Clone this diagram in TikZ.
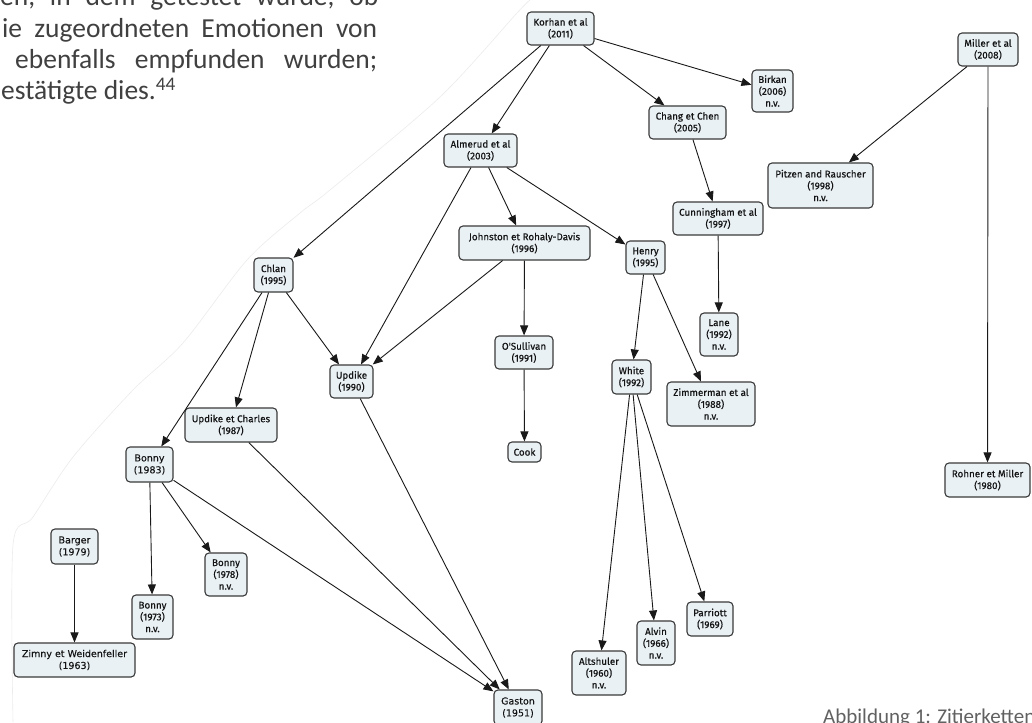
\documentclass[tikz,border=0pt]{standalone}
\usepackage{fontspec}
\setmainfont{Carlito}
\newfontfamily\nodefont[FakeBold=0.5]{Fira Sans}
\newfontfamily\verd[FakeBold=0.2]{DejaVu Sans}
\usetikzlibrary{arrows.meta}
\definecolor{boxfill}{HTML}{E9F1F5}
\definecolor{boxdraw}{HTML}{3A3A3A}
\definecolor{txt}{HTML}{404040}
\begin{document}
\begin{tikzpicture}[x=1pt,y=-1pt,
 box/.style={draw=boxdraw, fill=boxfill, rounded corners=4pt, line width=1.1pt, align=center, inner sep=0pt,
   font=\nodefont\fontsize{9.8}{11.8}\selectfont, text=black!92},
 vbox/.style={box, font=\verd\fontsize{9.5}{11.9}\selectfont},
 arr/.style={-{Triangle[length=10pt,width=8pt]}, line width=0.9pt, draw=black!90},
 body/.style={font=\fontsize{27.5}{31.5}\selectfont, text=txt, inner sep=0pt, anchor=base west},
 faint/.style={draw=gray!15, line width=0.6pt},
]
\useasboundingbox (0,0) rectangle (1032,722);
\fill[white] (0,0) rectangle (1032,722);

% faint page edge
\draw[faint] plot[smooth] coordinates {(13,722) (13,545) (33,517) (73,457) (133,390) (183,343) (247,260) (300,213) (330,190) (440,97) (517,13) (530,0)};

% body text
\node[body] (t1) at (0,6) {\makebox[378pt][s]{en,\hfill in\hfill dem\hfill getestet\hfill wurde,\hfill ob}};
\node[body] (t2) at (2,38) {\makebox[375pt][s]{ie\hfill zugeordneten\hfill Emotionen\hfill von}};
\node[body] (t3) at (15,69) {\makebox[362pt][s]{ebenfalls\hfill empfunden\hfill wurden;}};
\node[body] (t4) at (1,100) {estätigte dies.\textsuperscript{44}};
\node[font=\fontsize{21}{25}\selectfont, text=black!62, anchor=base west, inner sep=0pt] (cap) at (823,723) {Abbildung 1: Zitierketten};

% nodes
\node[box, minimum width=67, minimum height=33] (korhan) at (560.5,28.5) {Korhan et al\\(2011)};
\node[box, minimum width=41, minimum height=42] (birkan) at (772.5,91) {Birkan\\(2006)\\n.v.};
\node[box, minimum width=77, minimum height=33] (chang) at (687.5,122.5) {Chang et Chen\\(2005)};
\node[box, minimum width=73, minimum height=33] (almerud) at (480.5,150.5) {Almerud et al\\(2003)};
\node[box, minimum width=60, minimum height=33] (miller) at (988,49.5) {Miller et al\\(2008)};
\node[box, minimum width=105, minimum height=45] (pitzen) at (820.5,185.5) {Pitzen and Rauscher\\(1998)\\n.v.};
\node[box, minimum width=90, minimum height=33] (cunning) at (718,218.5) {Cunningham et al\\(1997)};
\node[box, minimum width=39, minimum height=33] (henry) at (645.5,257.5) {Henry\\(1995)};
\node[box, minimum width=38, minimum height=43] (lane) at (719,334.5) {Lane\\(1992)\\n.v.};
\node[box, minimum width=39, minimum height=34] (white) at (631.5,377) {White\\(1992)};
\node[box, minimum width=88, minimum height=44] (zimmer) at (711,404) {Zimmerman et al\\(1988)\\n.v.};
\node[box, minimum width=131, minimum height=34] (johnston) at (524.5,243) {Johnston et Rohaly-Davis\\(1996)};
\node[box, minimum width=39, minimum height=34] (chlan) at (273.5,275) {Chlan\\(1995)};
\node[box, minimum width=43, minimum height=33] (updike) at (351.5,381.5) {Updike\\(1990)};
\node[box, minimum width=58, minimum height=33] (osull) at (524,352.5) {O'Sullivan\\(1991)};
\node[box, minimum width=92, minimum height=34] (updch) at (231,425) {Updike et Charles\\(1987)};
\node[vbox, minimum width=47, minimum height=35] (bonny83) at (149.5,464.5) {Bonny\\(1983)};
\node[vbox, minimum width=47, minimum height=35] (barger) at (74.5,546.5) {Barger\\(1979)};
\node[box, minimum width=42, minimum height=43] (bonny78) at (226,574.5) {Bonny\\(1978)\\n.v.};
\node[box, minimum width=41, minimum height=44] (bonny73) at (152.5,617) {Bonny\\(1973)\\n.v.};
\node[vbox, minimum width=121, minimum height=34] (zimny) at (74.5,660) {Zimny et Weidenfeller\\(1963)};
\node[box, minimum width=33, minimum height=20] (cook) at (524.5,452) {Cook};
\node[vbox, minimum width=48, minimum height=35] (gaston) at (518,707.5) {Gaston\\(1951)};
\node[box, minimum width=54, minimum height=44] (altsh) at (599,673) {Altshuler\\(1960)\\n.v.};
\node[box, minimum width=38, minimum height=44] (alvin) at (656,643) {Alvin\\(1966)\\n.v.};
\node[box, minimum width=46, minimum height=34] (parr) at (710,619) {Parriott\\(1969)};
\node[box, minimum width=85, minimum height=34] (rohner) at (987.5,480) {Rohner et Miller\\(1980)};

% edges
\draw[arr] (korhan) -- (chlan);
\draw[arr] (korhan) -- (almerud);
\draw[arr] (korhan) -- (chang);
\draw[arr] (korhan) -- (birkan);
\draw[arr] (almerud) -- (updike);
\draw[arr] (almerud) -- (johnston);
\draw[arr] (almerud) -- (henry);
\draw[arr] (chang) -- (cunning);
\draw[arr] (cunning) -- (lane);
\draw[arr] (miller) -- (pitzen);
\draw[arr] (miller) -- (rohner);
\draw[arr] (johnston) -- (updike);
\draw[arr] (johnston) -- (osull);
\draw[arr] (osull) -- (cook);
\draw[arr] (henry) -- (white);
\draw[arr] (henry) -- (zimmer);
\draw[arr] (white) -- (altsh);
\draw[arr] (white) -- (alvin);
\draw[arr] (white) -- (parr);
\draw[arr] (chlan) -- (bonny83);
\draw[arr] (chlan) -- (updch);
\draw[arr] (chlan) -- (updike);
\draw[arr] (updike) -- (gaston);
\draw[arr] (updch) -- (gaston);
\draw[arr] (bonny83) -- (bonny73);
\draw[arr] (bonny83) -- (bonny78);
\draw[arr] (bonny83) -- (gaston);
\draw[arr] (barger) -- (zimny);
\end{tikzpicture}
\end{document}
